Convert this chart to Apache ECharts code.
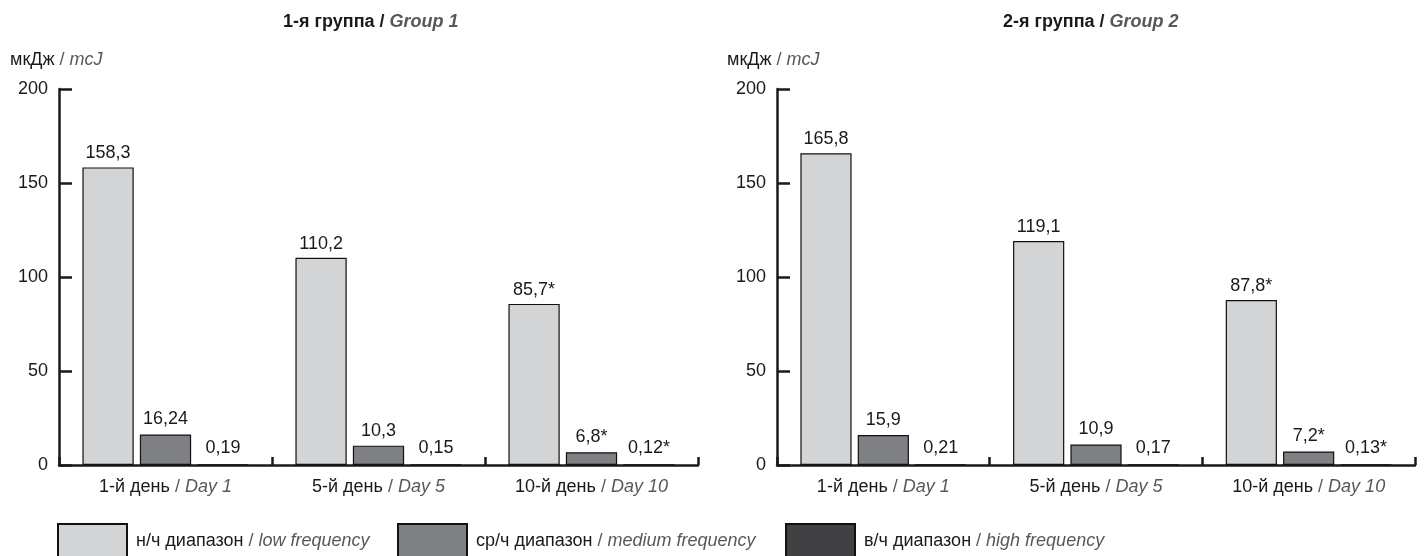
<!DOCTYPE html>
<html>
<head>
<meta charset="utf-8">
<script src="https://cdn.jsdelivr.net/npm/echarts@6/dist/echarts.min.js"></script>
<style>
html,body{margin:0;padding:0;background:#fff;}
#c{width:1428px;height:556px;}
</style>
</head>
<body>
<div id="c"></div>
<script>
// ---- data ----
const dayRu = ['1-й день', '5-й день', '10-й день'];
const dayEn = ['Day 1', 'Day 5', 'Day 10'];
const groupRu = ['1-я группа', '2-я группа'];
const groupEn = ['Group 1', 'Group 2'];
const unitRu = 'мкДж';
const unitEn = 'mcJ';
const seriesRu = ['н/ч диапазон', 'ср/ч диапазон', 'в/ч диапазон'];
const seriesEn = ['low frequency', 'medium frequency', 'high frequency'];
const yTicks = [0, 50, 100, 150, 200];

const g1Low = [158.3, 110.2, 85.7];
const g1Med = [16.24, 10.3, 6.8];
const g1High = [0.19, 0.15, 0.12];
const g1Sig = [false, false, true]; // marked * (per day)

const g2Low = [165.8, 119.1, 87.8];
const g2Med = [15.9, 10.9, 7.2];
const g2High = [0.21, 0.17, 0.13];
const g2Sig = [false, false, true];

// ---- styling ----
const FONT = '"Liberation Sans", Arial, Helvetica, sans-serif';
const FS = 18;
const BLACK = '#1a1a1a';
const GRAY = '#58585a';
const COLORS = ['#d3d4d6', '#7f8083', '#414143'];
const AXIS_W = 2.5;

const chart = echarts.init(document.getElementById('c'), null, {renderer: 'canvas'});

const richBase = {
  a: {fontFamily: FONT, fontSize: FS, fontWeight: 'normal', color: BLACK},
  s: {fontFamily: FONT, fontSize: FS, fontWeight: 'normal', color: GRAY},
  i: {fontFamily: FONT, fontSize: FS, fontWeight: 'normal', color: GRAY, fontStyle: 'italic'}
};

function fmtVal(v, sig) {
  return String(v).replace('.', ',') + (sig ? '*' : '');
}

const grids = [
  {left: 59, top: 89, width: 639, height: 376},
  {left: 777, top: 89, width: 638, height: 376}
];

function xAxisFor(gi) {
  return {
    type: 'category', gridIndex: gi, data: dayRu.map((d, k) => k),
    boundaryGap: true,
    axisLine: {show: true, lineStyle: {color: BLACK, width: AXIS_W}},
    axisTick: {show: true, inside: true, length: 8, lineStyle: {color: BLACK, width: AXIS_W}},
    axisLabel: {
      margin: 13,
      formatter: function (v) { const k = +v; return '{a|' + dayRu[k] + '}{s| / }{i|' + dayEn[k] + '}'; },
      rich: richBase
    },
    splitLine: {show: false}
  };
}
function yAxisFor(gi) {
  return {
    type: 'value', gridIndex: gi, min: yTicks[0], max: yTicks[yTicks.length - 1], interval: 50,
    axisLine: {show: true, lineStyle: {color: BLACK, width: AXIS_W}},
    axisTick: {show: true, inside: true, length: 13, lineStyle: {color: BLACK, width: AXIS_W}},
    axisLabel: {margin: 11, fontFamily: FONT, fontSize: FS, color: BLACK},
    splitLine: {show: false}
  };
}

function barSeries(gi, si, vals, sig, dist) {
  return {
    type: 'bar', name: seriesRu[si], xAxisIndex: gi, yAxisIndex: gi,
    data: vals,
    barCategoryGap: '22%', barGap: '12%',
    itemStyle: {color: COLORS[si], borderColor: '#111', borderWidth: 1.2},
    label: {
      show: true, position: 'top', distance: dist,
      fontFamily: FONT, fontSize: FS, color: BLACK,
      formatter: function (p) { return fmtVal(vals[p.dataIndex], sig[p.dataIndex]); }
    },
    emphasis: {disabled: true},
    animation: false
  };
}

const legendRich = {
  a: {fontFamily: FONT, fontSize: FS, color: BLACK, padding: [0, 0, 0, 4]},
  s: {fontFamily: FONT, fontSize: FS, color: GRAY},
  i: {fontFamily: FONT, fontSize: FS, color: GRAY, fontStyle: 'italic'}
};
const legendLefts = [57, 397, 785];
const legends = seriesRu.map((name, si) => ({
  data: [name], left: legendLefts[si], top: 523, padding: 0,
  icon: 'rect',
  itemWidth: 69, itemHeight: 34, selectedMode: false,
  formatter: function () { return '{a|' + seriesRu[si] + '}{s| / }{i|' + seriesEn[si] + '}'; },
  textStyle: {rich: legendRich}
}));

const titleRich = {
  b: {fontFamily: FONT, fontSize: FS, fontWeight: 'bold', color: BLACK},
  g: {fontFamily: FONT, fontSize: FS, fontWeight: 'bold', fontStyle: 'italic', color: GRAY}
};
const titles = [
  {text: '{b|' + groupRu[0] + ' / }{g|' + groupEn[0] + '}', left: 283, top: 13, padding: 0, textStyle: {rich: titleRich}},
  {text: '{b|' + groupRu[1] + ' / }{g|' + groupEn[1] + '}', left: 1003, top: 13, padding: 0, textStyle: {rich: titleRich}},
  {text: '{a|' + unitRu + '}{s| / }{i|' + unitEn + '}', left: 10, top: 51, padding: 0, textStyle: {fontWeight: 'normal', rich: richBase}},
  {text: '{a|' + unitRu + '}{s| / }{i|' + unitEn + '}', left: 727, top: 51, padding: 0, textStyle: {fontWeight: 'normal', rich: richBase}}
];

chart.setOption({
  animation: false,
  backgroundColor: '#ffffff',
  title: titles,
  legend: legends,
  grid: grids,
  xAxis: [xAxisFor(0), xAxisFor(1)],
  yAxis: [yAxisFor(0), yAxisFor(1)],
  series: [
    barSeries(0, 0, g1Low, g1Sig, 5),
    barSeries(0, 1, g1Med, g1Sig, 6),
    barSeries(0, 2, g1High, g1Sig, 7),
    barSeries(1, 0, g2Low, g2Sig, 5),
    barSeries(1, 1, g2Med, g2Sig, 6),
    barSeries(1, 2, g2High, g2Sig, 7)
  ]
});
</script>
</body>
</html>
